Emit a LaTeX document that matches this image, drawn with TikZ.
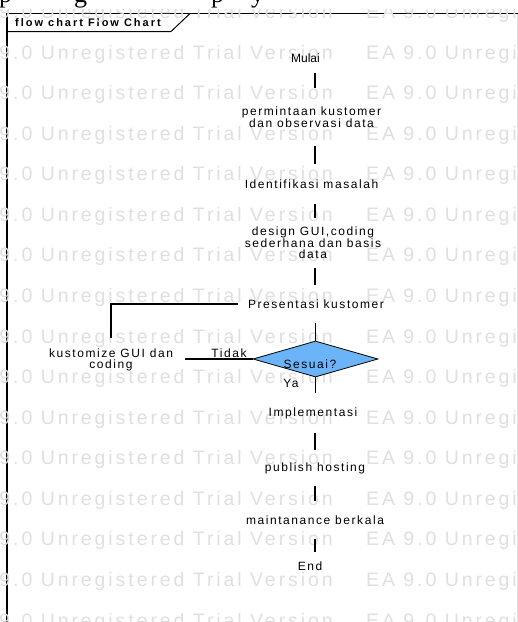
\documentclass[tikz,border=0pt]{standalone}
\usepackage{fontspec}
\setmainfont{Liberation Sans}
\newfontfamily\eafont[LetterSpace=13]{Liberation Sans}
\newfontfamily\wmfont[LetterSpace=15]{Liberation Sans}
\newfontfamily\titlefont[LetterSpace=18]{Liberation Sans Bold}
\newfontfamily\plainsans{Liberation Sans}
\newfontfamily\docserif{Liberation Serif}
\usetikzlibrary{shapes.geometric}
\definecolor{wmgray}{RGB}{224,224,224}
\definecolor{diafill}{RGB}{108,180,248}
\begin{document}
\begin{tikzpicture}[x=1pt,y=-1pt,
  lbl/.style={font=\eafont\fontsize{12}{11.5}\selectfont, align=center, inner sep=0pt},
  conn/.style={draw=black, line width=1.1pt},
  wm/.style={anchor=base west, inner sep=0pt, text=wmgray, font=\wmfont\fontsize{19.5}{19.5}\selectfont},
  frameline/.style={draw=black, line width=1.4pt},
  docglyph/.style={anchor=base west, inner sep=0pt, font=\docserif\fontsize{26}{26}\selectfont}]
\useasboundingbox (0,0) rectangle (518,622);
\fill[white] (0,0) rectangle (518,622);
% fragments of the document line above the picture
\begin{scope}
  \clip (0,0) rectangle (518,10);
  \node[docglyph] (d1) at (-1,2) {p};
  \node[docglyph] (d2) at (74,2) {g};
  \node[docglyph] (d3) at (211,2) {p};
  \node[docglyph] (d4) at (251,2) {y};
\end{scope}
% frame
\draw[frameline] (7,622) -- (7,13.5) -- (518,13.5);
\draw[draw=black, line width=1pt] (7,31.5) -- (171,31.5) -- (190,13.5);
\draw[draw=wmgray, line width=1pt] (517,14) -- (517,622);
\node[anchor=west, inner sep=0pt, font=\titlefont\fontsize{11}{11}\selectfont] (title) at (15,23) {flow chart Flow Chart};
% watermark
\begin{scope}
  \clip (0,9) rectangle (518,622);
  \foreach \k in {0,...,15} {
    \pgfmathsetmacro{\b}{18.5+40.57*\k}
    \node[wm] at (-38,\b) {EA 9.0 Unregistered Trial Version};
    \node[wm] at (366,\b) {EA 9.0 Unregistered Trial Version};
  }
\end{scope}
% nodes
\coordinate (spine) at (315,0);
\node[inner sep=0pt, minimum height=30pt, font=\plainsans\fontsize{12}{12}\selectfont] (mulai) at (305.5,58) {Mulai};
\node[lbl, minimum height=58pt] (perm) at (311.5,117) {permintaan kustomer\\dan observasi data};
\node[lbl, minimum height=40pt] (ident) at (311.5,184) {Identifikasi masalah};
\node[lbl, minimum height=49pt] (design) at (313,243) {design GUI,coding\\sederhana dan basis\\data};
\node[lbl, minimum height=38pt, minimum width=156pt] (pres) at (316,304) {Presentasi kustomer};
\node[diamond, draw=black, line width=0.8pt, fill=diafill, minimum width=125pt, minimum height=36pt, inner sep=0pt] (dia) at (315.5,359) {};
\node[lbl] (sesuai) at (310,364) {Sesuai?};
\node[lbl, minimum width=148pt, minimum height=44pt] (kust) at (111,360) {kustomize GUI dan\\coding};
\node[lbl] (tidak) at (229,353.5) {Tidak};
\node[lbl] (ya) at (291,383) {Ya};
\node[lbl, minimum height=39pt] (impl) at (313,413) {Implementasi};
\node[lbl, minimum height=36pt] (pub) at (315,468) {publish hosting};
\node[lbl, minimum height=38pt] (maint) at (315,520) {maintanance berkala};
\node[lbl, minimum height=28pt] (endn) at (310,566) {End};
% connectors
\draw[conn] (mulai.south -| spine) -- (perm.north -| spine);
\draw[conn] (perm.south -| spine) -- (ident.north -| spine);
\draw[conn] (ident.south -| spine) -- (design.north -| spine);
\draw[conn] (design.south -| spine) -- (pres.north -| spine);
\draw[conn] (pres.south -| dia.north) -- (dia.north);
\draw[conn] (dia.south) -- (impl.north -| dia.south);
\draw[conn] (impl.south -| spine) -- (pub.north -| spine);
\draw[conn] (pub.south -| spine) -- (maint.north -| spine);
\draw[conn] (maint.south -| spine) -- (endn.north -| spine);
\draw[conn] (dia.west) -- (kust.east |- dia.west);
\draw[conn] (kust.north) |- (pres.west);
\end{tikzpicture}
\end{document}
